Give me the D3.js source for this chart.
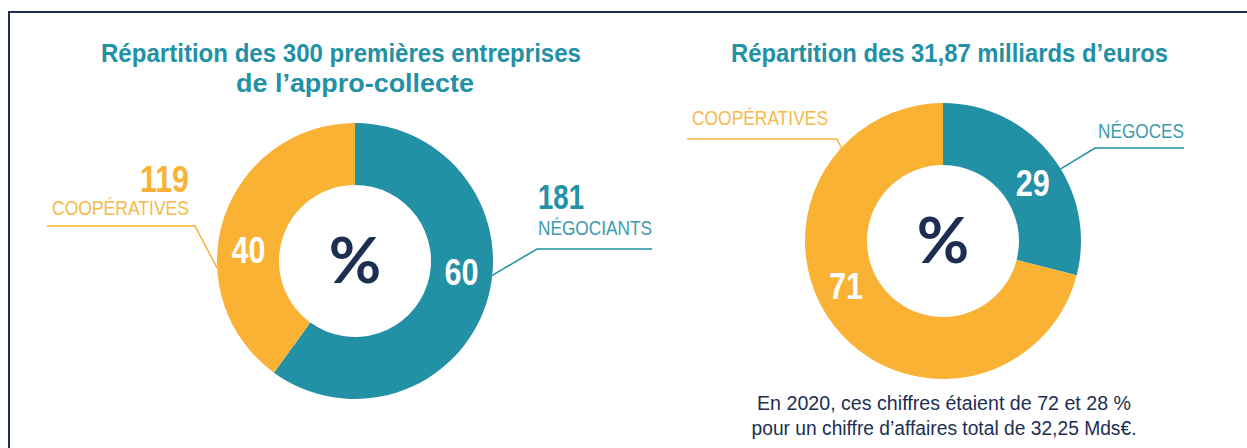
<!DOCTYPE html>
<html>
<head>
<meta charset="utf-8">
<script src="https://cdn.jsdelivr.net/npm/d3@7"></script>
<style>
  body { margin: 0; background: #fff; }
  text { font-family: "Liberation Sans", Arial, sans-serif; }
</style>
</head>
<body>
<svg id="chart" width="1247" height="448"></svg>
<script>
// données
const categories1 = ["NÉGOCIANTS", "COOPÉRATIVES"];
const counts1 = [181, 119];
const shares1 = [60, 40];
const title1 = ["Répartition des 300 premières entreprises", "de l’appro-collecte"];

const categories2 = ["NÉGOCES", "COOPÉRATIVES"];
const shares2 = [29, 71];
const title2 = ["Répartition des 31,87 milliards d’euros"];

const note = ["En 2020, ces chiffres étaient de 72 et 28 %", "pour un chiffre d’affaires total de 32,25 Mds€."];

const teal = "#2290a5", orange = "#f9b234", navy = "#1d2e52";
const colors = [teal, orange];

const svg = d3.select("#chart");

// cadre
svg.append("rect")
  .attr("x", 9).attr("y", 12)
  .attr("width", 1400).attr("height", 600)
  .attr("fill", "none").attr("stroke", navy).attr("stroke-width", 2);

// texte condensé : on force la largeur
function txt(g, s, x, y, o) {
  const t = g.append("text")
    .attr("x", x).attr("y", y)
    .attr("fill", o.fill)
    .attr("font-size", o.size)
    .attr("font-weight", o.bold ? "bold" : "normal")
    .attr("text-anchor", o.anchor || "start")
    .text(s);
  if (o.w) t.attr("textLength", o.w).attr("lengthAdjust", "spacingAndGlyphs");
  return t;
}

const rOut = 138, rIn = 76;
const arc = d3.arc().innerRadius(rIn).outerRadius(rOut);
const pie = d3.pie().sort(null).value(d => d);

function donut(cx, cy, values, labelAngles) {
  const g = svg.append("g").attr("transform", `translate(${cx},${cy})`);
  const arcs = pie(values);
  g.selectAll("path").data(arcs).join("path")
    .attr("d", arc)
    .attr("fill", (d, i) => colors[i]);
  arcs.forEach((d, i) => {
    const p = d3.pointRadial(labelAngles[i] * Math.PI / 180, (rIn + rOut) / 2);
    txt(g, d.data, p[0], p[1] + 13, { fill: "#fff", size: 37, bold: true, anchor: "middle", w: 34 });
  });
  g.append("text")
    .attr("x", 0).attr("y", 22)
    .attr("text-anchor", "middle")
    .attr("fill", navy)
    .attr("font-size", 64)
    .attr("font-weight", "bold")
    .style("font-family", "Lato, 'Noto Sans', sans-serif")
    .text("%");
  return g;
}

// ligne de rappel : du bord de l'anneau vers l'étiquette
function leader(g, angle, elbow, end, color) {
  const p = d3.pointRadial(angle * Math.PI / 180, rOut);
  g.append("path")
    .attr("d", d3.line()([p, elbow, end]))
    .attr("fill", "none").attr("stroke", color).attr("stroke-width", 1.5);
}

// ---- graphique 1
txt(svg, title1[0], 101, 62, { fill: teal, size: 25, bold: true, w: 480 });
txt(svg, title1[1], 236, 92, { fill: teal, size: 25, bold: true, w: 238 });

const g1 = donut(355, 261, shares1, [96, 276]);
leader(g1, 96, [182, -12], [297, -12], teal);
leader(g1, 267, [-160, -35], [-308, -35], orange);

txt(svg, counts1[0], 538, 209, { fill: teal, size: 35, bold: true, w: 46 });
txt(svg, categories1[0], 538, 235, { fill: "#3e9aae", size: 20, w: 114 });
txt(svg, counts1[1], 189, 192, { fill: orange, size: 37, bold: true, anchor: "end", w: 49 });
txt(svg, categories1[1], 189, 215, { fill: "#f8b94a", size: 20, anchor: "end", w: 137 });

// ---- graphique 2
txt(svg, title2[0], 731, 62, { fill: teal, size: 25, bold: true, w: 437 });

const g2 = donut(943, 241, shares2, [57, 245]);
leader(g2, 58.5, [152, -93], [241, -93], teal);
leader(g2, -47.5, [-106, -102], [-256, -102], orange);

txt(svg, categories2[0], 1098, 138, { fill: "#3e9aae", size: 20, w: 86 });
txt(svg, categories2[1], 692, 125, { fill: "#f8b94a", size: 20, w: 136 });

txt(svg, note[0], 944, 410, { fill: navy, size: 20, anchor: "middle", w: 374 });
txt(svg, note[1], 944, 435, { fill: navy, size: 20, anchor: "middle", w: 385 });
</script>
</body>
</html>
